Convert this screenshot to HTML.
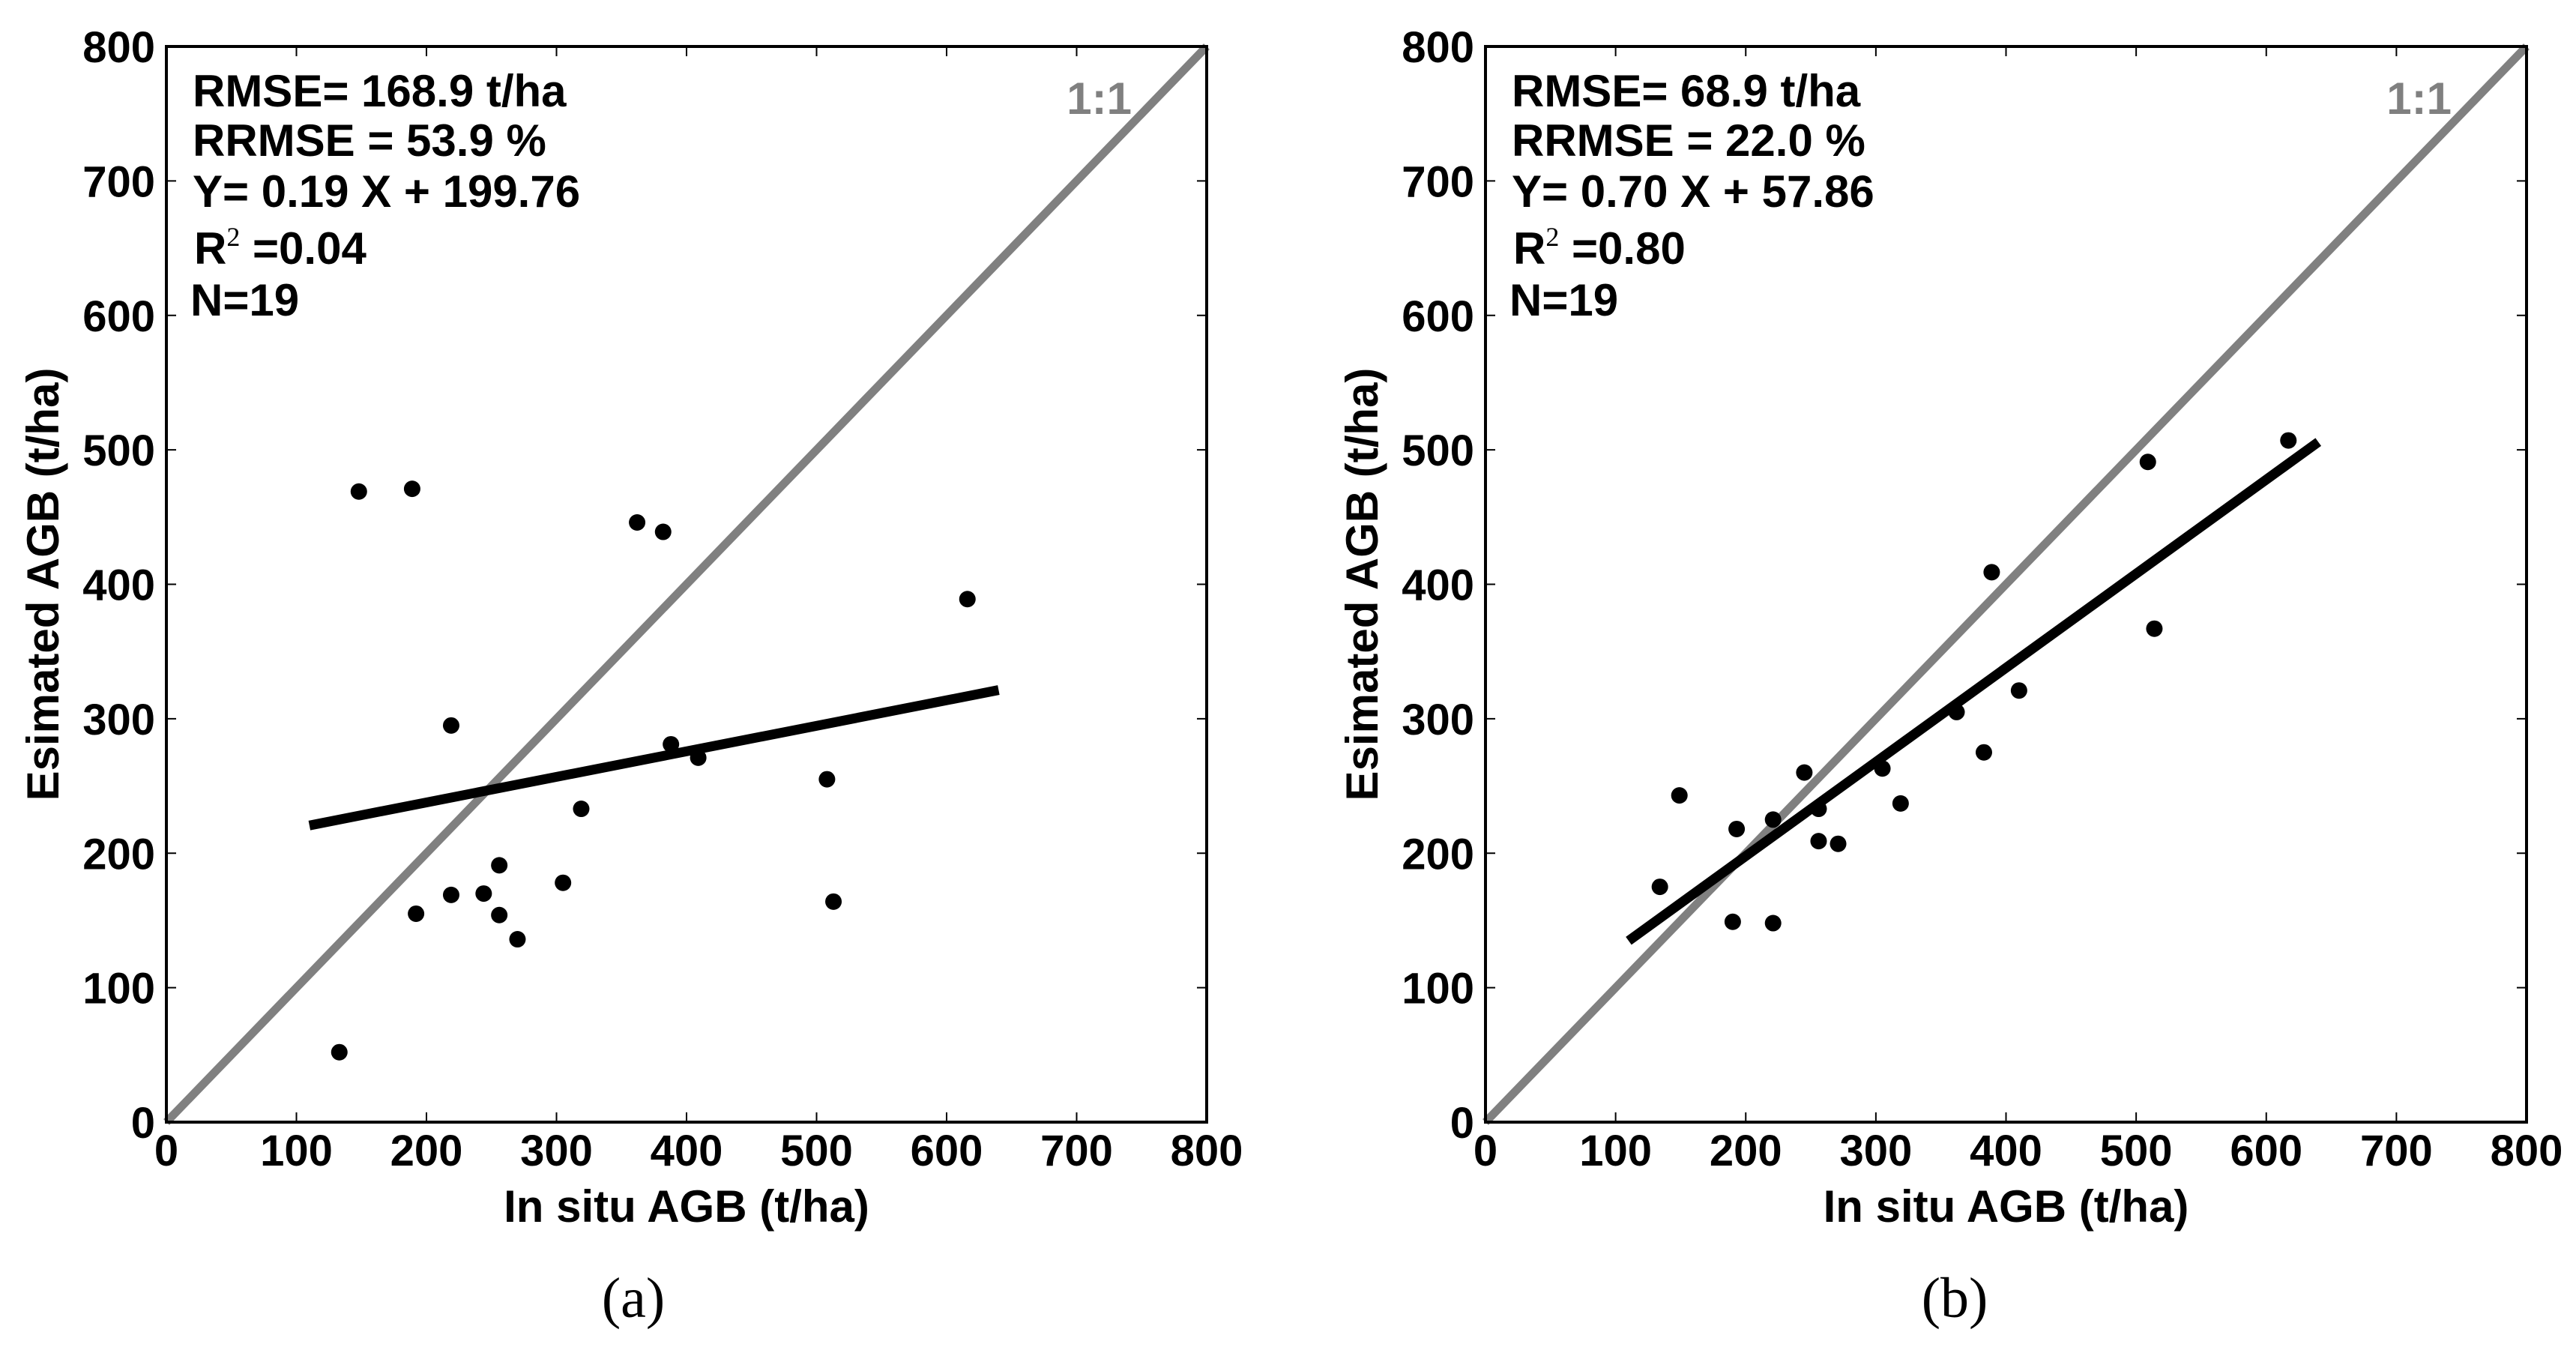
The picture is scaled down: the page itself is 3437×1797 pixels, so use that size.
<!DOCTYPE html>
<html><head><meta charset="utf-8"><style>
html,body{margin:0;padding:0;background:#fff;}
svg{display:block;font-family:"Liberation Sans",Arial,sans-serif;}
</style></head><body>
<svg id="fig" width="3437" height="1797" viewBox="0 0 3437 1797" xmlns="http://www.w3.org/2000/svg"></svg>
<script>
// Panel (a) data
const aX = [133,148,189,219,192,219,244,256,256,270,305,319,362,382,388,409,508,513,616];
const aY = [52,469,471,295,155,169,170,191,154,136,178,233,446,439,281,271,255,164,389];
const aFit = [0.19, 199.76];
const aFitRange = [110, 640];
const aStats = ["RMSE= 168.9 t/ha","RRMSE = 53.9 %","Y= 0.19 X + 199.76","0.04","N=19"];
// Panel (b) data
const bX = [134,149,190,193,221,221,245,256,256,271,305,319,362,383,389,410,509,514,617];
const bY = [175,243,149,218,225,148,260,233,209,207,263,237,305,275,409,321,491,367,507];
const bFit = [0.70, 57.86];
const bFitRange = [110, 640];
const bStats = ["RMSE= 68.9 t/ha","RRMSE = 22.0 %","Y= 0.70 X + 57.86","0.80","N=19"];
const ticks = [0,100,200,300,400,500,600,700,800];

const NS = "http://www.w3.org/2000/svg";
const svg = document.getElementById('fig');
function mk(tag, attrs, parent, text){
  const e = document.createElementNS(NS, tag);
  for (const k in attrs) e.setAttribute(k, attrs[k]);
  if (text !== undefined) e.textContent = text;
  (parent||svg).appendChild(e);
  return e;
}

function panel(id, L, R, xs, ys, fit, fitRange, stats, caption, capX){
  const T = 62, B = 1497;
  const sx = v => L + (v/800)*(R-L);
  const sy = v => B - (v/800)*(B-T);
  const g = mk('g', {});
  
  

  const one = mk('line', {x1:sx(0), y1:sy(0), x2:sx(800), y2:sy(800), stroke:'#808080', 'stroke-width':11}, g);
  
  

  const fl = mk('line', {x1:sx(fitRange[0]), y1:sy(fit[0]*fitRange[0]+fit[1]), x2:sx(fitRange[1]), y2:sy(fit[0]*fitRange[1]+fit[1]), stroke:'#000', 'stroke-width':13}, g);
  
  

  for (let i=0;i<xs.length;i++){
    const c = mk('ellipse', {cx:sx(xs[i]), cy:sy(ys[i]), rx:11, ry:11, fill:'#000'}, g);
    
    
  }

  const fr = mk('rect', {x:L, y:T, width:R-L, height:B-T, fill:'none', stroke:'#000', 'stroke-width':4}, g);
  
  

  ticks.forEach(t => {
    const x = sx(t), y = sy(t);
    if (t>0 && t<800){
      mk('line', {x1:x, y1:B, x2:x, y2:B-13, stroke:'#000','stroke-width':2}, g);
      mk('line', {x1:x, y1:T, x2:x, y2:T+13, stroke:'#000','stroke-width':2}, g);
      mk('line', {x1:L, y1:y, x2:L+13, y2:y, stroke:'#000','stroke-width':2}, g);
      mk('line', {x1:R, y1:y, x2:R-13, y2:y, stroke:'#000','stroke-width':2}, g);
    }
    const xl = mk('text', {x:x, y:1555, 'text-anchor':'middle', 'font-size':58, 'font-weight':'bold'}, g, String(t));
    
    
    const yl = mk('text', {x:L-15, y:y+21, 'text-anchor':'end', 'font-size':58, 'font-weight':'bold'}, g, String(t));
    
    
  });

  const xt = mk('text', {x:(L+R)/2, y:1630, 'text-anchor':'middle', 'font-size':60, 'font-weight':'bold'}, g, 'In situ AGB (t/ha)');
  
  
  const ycx = L - 144, ycy = (T+B)/2;
  const yt = mk('text', {x:ycx, y:ycy, 'text-anchor':'middle', 'font-size':60, 'font-weight':'bold', transform:'rotate(-90 '+ycx+' '+ycy+')'}, g, 'Esimated AGB (t/ha)');
  
  

  const ol = mk('text', {x:R-100, y:152, 'text-anchor':'end', 'font-size':60, 'font-weight':'bold', fill:'#808080'}, g, '1:1');
  
  

  const tx = L + 35;
  const baselines = [142, 208, 276, 352, 421];
  const s0 = mk('text', {x:tx, y:baselines[0], 'font-size':60, 'font-weight':'bold'}, g, stats[0]);
   
  const s1 = mk('text', {x:tx, y:baselines[1], 'font-size':60, 'font-weight':'bold'}, g, stats[1]);
   
  const s2 = mk('text', {x:tx, y:baselines[2], 'font-size':60, 'font-weight':'bold'}, g, stats[2]);
   
  const s3 = mk('text', {x:tx+2, y:baselines[3], 'font-size':60, 'font-weight':'bold'}, g);
   
  mk('tspan', {}, s3, 'R');
  mk('tspan', {dy:-24, 'font-size':36, 'font-weight':'normal', 'font-family':'"Liberation Serif",serif'}, s3, '2');
  mk('tspan', {dy:24}, s3, ' =' + stats[3]);
  const s4 = mk('text', {x:tx-3, y:baselines[4], 'font-size':60, 'font-weight':'bold'}, g, stats[4]);
   

  const cap = mk('text', {x:capX, y:1757, 'text-anchor':'middle', 'font-size':76, 'font-family':'"Liberation Serif",serif'}, g, caption);
  
  
}

panel('a', 222, 1610, aX, aY, aFit, aFitRange, aStats, '(a)', 845);
panel('b', 1982, 3371, bX, bY, bFit, bFitRange, bStats, '(b)', 2608);
</script>
</body></html>
